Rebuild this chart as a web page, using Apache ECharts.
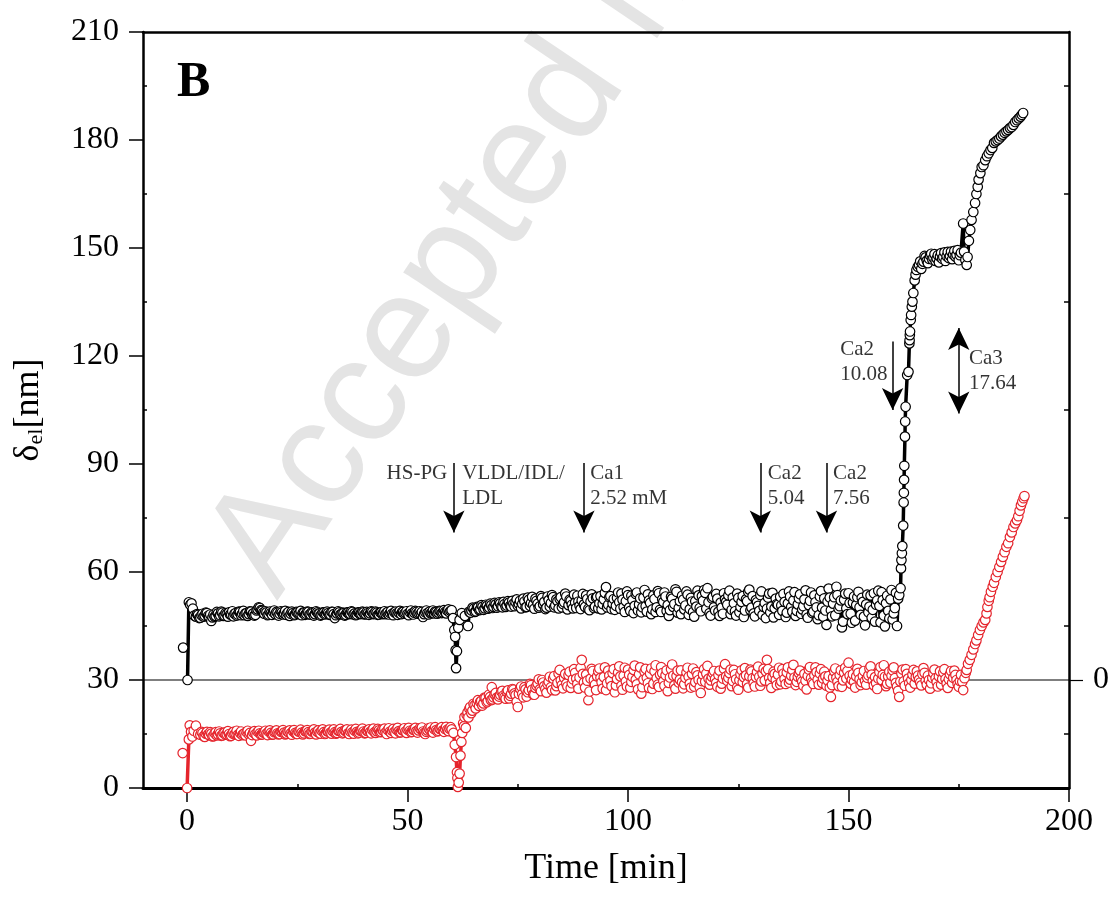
<!DOCTYPE html>
<html><head><meta charset="utf-8">
<script src="https://cdn.jsdelivr.net/npm/echarts@6/dist/echarts.min.js"></script>
<style>html,body{margin:0;padding:0;background:#fff}#c{width:1113px;height:898px}</style>
</head><body><div id="c"></div>
<script>
// ---- axis ticks ----
const xMajorTicks = [0, 50, 100, 150, 200];
const xMinorTicks = [25, 75, 125, 175];
const yMinorTicks = [15, 45, 75, 105, 135, 165, 195];
const rightZeroTick = [0];

// ---- black trace: [time (min), delta_el (nm)] ----
const blackData = [
 [-0.9,39.0],[-0.4,'-'],[0.1,30.0],[0.4,51.6],[0.7,50.9],[1.0,51.3],[1.3,49.8],[1.6,47.9],
 [2.0,47.6],[2.25,48.3],[2.5,48.1],[2.75,47.2],[3.0,47.3],[3.25,48.0],[3.5,48.4],[3.75,47.6],
 [4.0,47.9],[4.25,48.7],[4.5,48.6],[4.75,47.8],[5.0,47.5],[5.25,48.2],[5.5,46.4],[5.75,47.4],
 [6.0,48.2],[6.25,47.6],[6.5,47.8],[6.75,48.9],[7.0,48.5],[7.25,47.7],[7.5,48.0],[7.75,49.0],
 [8.0,48.7],[8.25,47.8],[8.5,47.9],[8.75,48.6],[9.0,48.3],[9.25,47.6],[9.5,48.8],[9.75,48.2],
 [10.0,48.1],[10.25,49.1],[10.5,47.7],[10.75,48.4],[11.0,48.6],[11.25,47.9],[11.5,48.2],[11.75,49.0],
 [12.0,48.9],[12.25,48.0],[12.5,48.4],[12.75,49.2],[13.0,48.0],[13.25,48.5],[13.5,48.6],[13.75,47.8],
 [14.0,48.3],[14.25,49.1],[14.5,49.0],[14.75,48.2],[15.0,48.5],[15.25,47.9],[15.5,48.1],[15.75,49.3],
 [16.0,49.6],[16.25,50.2],[16.5,50.0],[16.75,49.4],[17.0,49.2],[17.25,48.7],[17.5,48.4],[17.75,49.1],
 [18.0,48.8],[18.25,48.0],[18.5,48.2],[18.75,49.0],[19.0,48.6],[19.25,48.1],[19.5,48.9],[19.75,49.3],
 [20.0,48.3],[20.25,48.9],[20.5,48.7],[20.75,47.9],[21.0,48.4],[21.25,49.1],[21.5,48.8],[21.75,48.2],
 [22.0,48.5],[22.25,49.2],[22.5,48.1],[22.75,48.6],[23.0,48.9],[23.25,47.8],[23.5,48.4],[23.75,49.0],
 [24.0,48.6],[24.25,48.0],[24.5,48.2],[24.75,48.9],[25.0,48.8],[25.25,48.3],[25.5,48.5],[25.75,49.2],
 [26.0,48.0],[26.25,48.7],[26.5,48.7],[26.75,48.1],[27.0,48.4],[27.25,49.0],[27.5,48.9],[27.75,48.2],
 [28.0,48.2],[28.25,48.8],[28.5,48.6],[28.75,47.9],[29.0,48.3],[29.25,49.1],[29.5,48.8],[29.75,48.4],
 [30.0,48.5],[30.25,47.9],[30.5,48.1],[30.75,48.8],[31.0,48.7],[31.25,48.2],[31.5,48.4],[31.75,49.0],
 [32.0,48.6],[32.25,48.1],[32.5,48.2],[32.75,48.9],[33.0,48.9],[33.25,48.3],[33.5,47.2],[33.75,48.0],
 [34.0,48.5],[34.25,49.1],[34.5,48.8],[34.75,48.2],[35.0,48.3],[35.25,48.7],[35.5,48.6],[35.75,47.9],
 [36.0,48.1],[36.25,48.8],[36.5,48.7],[36.75,48.3],[37.0,48.4],[37.25,49.1],[37.5,48.9],[37.75,48.2],
 [38.0,48.5],[38.25,48.0],[38.5,48.2],[38.75,48.8],[39.0,48.7],[39.25,48.3],[39.5,48.4],[39.75,49.0],
 [40.0,48.8],[40.25,48.2],[40.5,48.3],[40.75,48.9],[41.0,48.6],[41.25,48.1],[41.5,48.5],[41.75,49.1],
 [42.0,48.9],[42.25,48.3],[42.5,48.4],[42.75,49.0],[43.0,48.7],[43.25,48.1],[43.5,48.2],[43.75,48.8],
 [44.0,48.8],[44.25,48.3],[44.5,48.5],[44.75,49.1],[45.0,48.3],[45.25,48.7],[45.5,48.9],[45.75,48.2],
 [46.0,48.6],[46.25,49.2],[46.5,48.4],[46.75,48.0],[47.0,48.8],[47.25,49.0],[47.5,48.5],[47.75,48.1],
 [48.0,48.7],[48.25,49.2],[48.5,48.3],[48.75,48.9],[49.0,48.9],[49.25,48.4],[49.5,48.6],[49.75,49.1],
 [50.0,48.4],[50.25,48.0],[50.5,48.8],[50.75,49.3],[51.0,48.5],[51.25,48.2],[51.5,48.7],[51.75,49.2],
 [52.0,48.9],[52.25,48.4],[52.5,48.6],[52.75,49.1],[53.0,48.4],[53.25,48.9],[53.5,47.5],[53.75,48.3],
 [54.0,48.8],[54.25,49.3],[54.5,48.6],[54.75,48.2],[55.0,49.0],[55.25,48.5],[55.5,48.7],[55.75,49.3],
 [56.0,48.5],[56.25,49.0],[56.5,48.9],[56.75,48.4],[57.0,48.7],[57.25,49.2],[57.5,49.1],[57.75,48.6],
 [58.0,48.8],[58.25,49.4],[58.5,48.9],[58.75,48.5],[59.0,49.3],[59.25,49.6],[59.5,48.8],[59.75,49.2],
 [60.0,49.4],
 [60.3,47.2],[60.6,43.9],[60.8,42.0],[60.9,38.3],[61.0,33.3],[61.2,38.0],[61.5,44.5],[61.8,46.7],[62.3,48.6],[63.0,47.8],[63.7,45.0],[64.0,49.0],
 [64.25,48.7],[64.5,49.3],[64.75,50.1],[65.0,49.8],[65.25,48.9],[65.5,49.1],[65.75,50.3],[66.0,50.2],
 [66.25,49.4],[66.5,49.6],[66.75,50.8],[67.0,50.4],[67.25,49.5],[67.5,49.9],[67.75,50.9],[68.0,50.6],
 [68.25,49.8],[68.5,50.1],[68.75,51.2],[69.0,50.8],[69.25,50.0],[69.5,50.3],[69.75,51.4],[70.0,51.0],
 [70.25,50.1],[70.5,50.5],[70.75,51.6],[71.0,51.3],[71.25,50.4],[71.5,50.2],[71.75,51.7],[72.0,51.1],
 [72.25,50.3],[72.5,50.7],[72.75,51.9],[73.0,51.5],[73.25,50.6],[73.5,50.4],[73.75,52.0],[74.0,51.2],
 [74.25,50.5],[74.5,51.6],[74.75,52.4],[75.0,50.6],[75.25,51.1],[75.5,52.0],[75.75,49.9],[76.0,51.1],
 [76.25,52.6],[76.5,51.8],[76.75,50.2],[77.0,50.3],[77.25,52.9],[77.5,52.3],[77.75,50.6],[78.0,51.4],
 [78.25,53.1],[78.5,50.9],[78.75,49.8],[79.0,52.6],[79.25,52.0],[79.5,51.2],[79.75,50.1],[80.0,50.5],
 [80.25,53.3],[80.5,52.8],[80.75,51.0],[81.0,51.7],[81.25,49.7],[81.5,50.1],[81.75,53.2],[82.0,52.2],
 [82.25,50.4],[82.5,51.4],[82.75,53.6],[83.0,53.0],[83.25,50.2],[83.5,50.7],[83.75,52.4],[84.0,51.9],
 [84.25,49.9],[84.5,52.5],[84.75,53.0],[85.0,50.2],[85.25,51.1],[85.5,51.6],[85.75,54.0],[86.0,53.2],
 [86.25,49.6],[86.5,50.8],[86.75,52.3],[87.0,52.0],[87.25,50.9],[87.5,49.9],[87.75,53.7],[88.0,51.5],
 [88.25,50.0],[88.5,53.4],[88.75,51.8],[89.0,50.6],[89.25,49.7],[89.5,52.1],[89.75,53.9],[90.0,51.0],
 [90.25,50.3],[90.5,53.5],[90.75,52.5],[91.0,49.8],[91.25,49.4],[91.5,51.8],[91.75,53.8],[92.0,52.7],
 [92.25,50.0],[92.5,50.4],[92.75,52.9],[93.0,53.1],[93.25,49.9],[93.5,51.3],[93.75,53.3],[94.0,49.6],
 [94.25,51.1],[94.5,52.4],[94.75,54.2],[95.0,55.8],[95.25,50.2],[95.5,50.9],[95.75,53.0],[96.0,53.3],
 [96.25,49.7],[96.5,51.2],[96.75,52.5],[97.0,49.5],[97.25,50.6],[97.5,52.8],[97.75,54.3],[98.0,51.6],
 [98.25,49.8],[98.5,54.0],[98.75,52.3],[99.0,50.3],[99.25,48.9],[99.5,51.9],[99.75,54.6],[100.0,53.6],
 [100.25,50.1],[100.5,49.2],[100.75,53.4],[101.0,52.2],[101.25,48.6],[101.5,50.6],[101.75,53.9],[102.0,54.3],
 [102.25,49.3],[102.5,51.0],[102.75,52.7],[103.0,48.8],[103.25,50.2],[103.5,52.9],[103.75,55.0],[104.0,50.5],
 [104.25,49.0],[104.5,53.8],[104.75,52.1],[105.0,51.4],[105.25,48.3],[105.5,49.6],[105.75,53.5],[106.0,52.5],
 [106.25,48.9],[106.5,50.2],[106.75,54.7],[107.0,54.1],[107.25,49.5],[107.5,48.9],[107.75,52.4],[108.0,51.7],
 [108.25,54.3],[108.5,53.2],[108.75,49.2],[109.0,50.8],[109.25,47.8],[109.5,49.4],[109.75,53.1],[110.0,52.6],
 [110.25,50.3],[110.5,51.1],[110.75,55.2],[111.0,54.5],[111.25,48.7],[111.5,50.0],[111.75,51.9],[112.0,48.3],
 [112.25,53.4],[112.5,52.3],[112.75,49.6],[113.0,50.7],[113.25,54.6],[113.5,53.7],[113.75,48.1],[114.0,49.7],
 [114.25,52.8],[114.5,51.8],[114.75,48.9],[115.0,47.6],[115.25,51.9],[115.5,50.4],[115.75,54.8],[116.0,53.5],
 [116.25,50.0],[116.5,49.1],[116.75,53.3],[117.0,52.0],[117.25,55.0],[117.5,54.2],[117.75,49.8],[118.0,55.5],
 [118.25,51.6],[118.5,48.6],[118.75,47.9],[119.0,52.7],[119.25,53.1],[119.5,50.2],[119.75,49.3],[120.0,53.9],
 [120.25,52.6],[120.5,49.0],[120.75,47.8],[121.0,51.5],[121.25,50.1],[121.5,48.4],[121.75,54.1],[122.0,52.4],
 [122.25,51.7],[122.5,50.9],[122.75,53.5],[123.0,54.8],[123.25,48.3],[123.5,49.5],[123.75,52.9],[124.0,51.3],
 [124.25,49.1],[124.5,47.9],[124.75,54.0],[125.0,52.8],[125.25,48.8],[125.5,50.3],[125.75,51.7],[126.0,53.3],
 [126.25,47.5],[126.5,49.3],[126.75,52.4],[127.0,51.9],[127.25,54.5],[127.5,55.1],[127.75,49.4],[128.0,50.1],
 [128.25,53.3],[128.5,48.5],[128.75,47.7],[129.0,52.2],[129.25,51.6],[129.5,50.6],[129.75,49.2],[130.0,53.6],
 [130.25,54.6],[130.5,48.1],[130.75,50.3],[131.0,51.4],[131.25,47.2],[131.5,49.8],[131.75,52.9],[132.0,54.0],
 [132.25,48.8],[132.5,50.4],[132.75,54.2],[133.0,47.4],[133.25,49.9],[133.5,52.6],[133.75,51.1],[134.0,50.9],
 [134.25,48.1],[134.5,53.1],[134.75,50.7],[135.0,49.2],[135.25,53.9],[135.5,51.7],[135.75,47.5],[136.0,48.7],
 [136.25,51.3],[136.5,54.6],[136.75,53.2],[137.0,50.3],[137.25,49.0],[137.5,52.1],[137.75,54.4],[138.0,47.8],
 [138.25,49.2],[138.5,51.0],[138.75,52.7],[139.0,53.8],[139.25,48.4],[139.5,49.6],[139.75,50.5],[140.0,52.4],
 [140.25,54.9],[140.5,48.2],[140.75,47.3],[141.0,50.8],[141.25,52.0],[141.5,54.3],[141.75,48.6],[142.0,49.0],
 [142.25,53.5],[142.5,51.6],[142.75,50.2],[143.0,46.9],[143.25,48.0],[143.5,53.2],[143.75,54.7],[144.0,50.1],
 [144.25,47.6],[144.5,52.7],[144.75,49.3],[145.0,45.3],[145.25,51.8],[145.5,55.4],[145.75,52.9],[146.0,49.4],
 [146.25,47.7],[146.5,51.2],[146.75,53.0],[147.0,48.0],[147.25,55.9],[147.5,53.6],[147.75,49.8],[148.0,50.5],
 [148.25,52.1],[148.5,44.6],[148.75,46.2],[149.0,52.3],[149.25,54.0],[149.5,49.9],[149.75,48.3],[150.0,54.1],
 [150.25,51.4],[150.5,48.4],[150.75,45.9],[151.0,51.5],[151.25,53.2],[151.5,46.5],[151.75,50.8],[152.0,53.0],
 [152.25,54.5],[152.5,50.2],[152.75,48.1],[153.0,52.8],[153.25,51.7],[153.5,47.6],[153.75,45.2],[154.0,51.0],
 [154.25,53.7],[154.5,48.8],[154.75,50.4],[155.0,53.5],[155.25,47.3],[155.5,49.5],[155.75,54.1],[156.0,46.2],
 [156.25,50.9],[156.5,52.1],[156.75,54.8],[157.0,50.6],[157.25,46.0],[157.5,54.4],[157.75,52.2],[158.0,47.9],
 [158.25,44.9],[158.5,51.3],[158.75,53.4],[159.0,49.2],[159.25,47.1],[159.5,52.4],[159.75,55.0],[160.0,46.8],
 [160.25,48.5],[160.5,50.0],[160.75,54.2],[161.0,45.0],[161.25,52.6],[161.5,53.6],
 [161.8,55.5],[161.9,61.0],[162.0,63.3],[162.1,65.2],[162.2,67.2],[162.4,72.9],[162.5,79.3],[162.55,82.0],[162.6,85.6],[162.65,89.5],
 [162.8,97.6],[162.85,101.8],[162.95,105.9],[163.3,114.7],[163.6,115.6],[163.8,123.5],[163.85,124.4],[163.9,125.8],[163.95,126.8],
 [164.1,130.0],[164.2,131.4],[164.35,133.7],[164.5,135.1],[164.7,137.5],[165.0,141.0],[165.2,142.6],[165.4,143.9],[165.7,144.8],
 [166.0,145.3],[166.25,146.3],[166.5,144.2],[166.75,145.6],[167.0,146.2],[167.25,147.8],[167.5,147.4],[167.75,146.5],
 [168.0,145.8],[168.25,147.0],[168.5,147.9],[168.75,148.4],[169.0,146.8],[169.25,147.3],[169.5,148.3],[169.75,146.4],
 [170.0,147.1],[170.25,148.0],[170.5,146.0],[170.75,147.6],[171.0,148.6],[171.25,147.0],[171.5,147.5],[171.75,148.8],
 [172.0,146.4],[172.25,147.7],[172.5,148.9],[172.75,147.2],[173.0,147.8],[173.25,149.0],[173.5,146.9],[173.75,148.2],
 [174.0,149.2],[174.25,147.6],[174.5,148.1],[174.75,149.4],[175.0,146.6],[175.25,148.0],[175.5,148.7],
 [176.0,156.8],[176.2,149.0],[176.5,146.7],[176.8,145.3],[177.0,147.5],[177.3,152.0],[177.6,155.0],[177.9,157.8],[178.3,160.0],[178.7,162.5],
 [179.0,165.0],[179.3,167.0],[179.5,169.0],[179.9,170.8],[180.2,172.5],[180.6,173.0],[181.0,174.4],[181.4,175.5],[181.8,176.3],[182.2,177.2],
 [182.6,177.8],[183.0,179.2],[183.4,179.6],[183.8,180.0],[184.2,180.4],[184.6,181.0],[185.0,181.5],[185.4,182.0],[185.8,182.4],[186.2,182.8],
 [186.6,183.3],[187.0,183.6],[187.4,184.2],[187.8,185.0],[188.2,185.5],[188.6,186.0],[189.0,186.5],[189.3,187.0],[189.6,187.5]
];

// ---- red trace: [time (min), delta_el (nm)] ----
const redData = [
 [-1.0,9.7],[-0.5,'-'],[0.0,0.0],[0.4,13.5],[0.6,17.4],[0.9,15.6],[1.2,14.3],[1.5,15.9],[2.0,17.3],[2.5,15.0],
 [3.0,14.8],[3.25,15.6],[3.5,15.3],[3.75,14.4],[4.0,14.2],[4.25,15.1],[4.5,15.6],[4.75,14.9],
 [5.0,14.7],[5.25,15.5],[5.5,15.1],[5.75,14.3],[6.0,14.4],[6.25,15.2],[6.5,15.5],[6.75,14.6],
 [7.0,14.9],[7.25,15.7],[7.5,15.2],[7.75,14.5],[8.0,14.6],[8.25,15.3],[8.5,15.4],[8.75,14.8],
 [9.0,14.9],[9.25,15.8],[9.5,15.0],[9.75,14.4],[10.0,14.5],[10.25,15.2],[10.5,15.6],[10.75,14.9],
 [11.0,15.1],[11.25,15.9],[11.5,14.8],[11.75,14.5],[12.0,15.3],[12.25,15.7],[12.5,14.7],[12.75,15.0],
 [13.0,15.2],[13.25,14.6],[13.5,15.5],[13.75,15.9],[14.0,14.9],[14.25,15.3],[14.5,13.1],[14.75,14.7],
 [15.0,15.4],[15.25,15.8],[15.5,15.0],[15.75,14.6],[16.0,15.6],[16.25,15.9],[16.5,15.2],[16.75,14.8],
 [17.0,14.9],[17.25,15.4],[17.5,15.5],[17.75,15.9],[18.0,15.1],[18.25,14.7],[18.5,15.7],[18.75,16.0],
 [19.0,15.3],[19.25,14.8],[19.5,14.9],[19.75,15.5],[20.0,15.6],[20.25,16.0],[20.5,15.2],[20.75,14.9],
 [21.0,15.0],[21.25,15.6],[21.5,15.7],[21.75,16.1],[22.0,15.4],[22.25,14.9],[22.5,15.1],[22.75,15.7],
 [23.0,15.5],[23.25,16.0],[23.5,15.2],[23.75,14.8],[24.0,15.8],[24.25,16.1],[24.5,15.3],[24.75,15.0],
 [25.0,15.0],[25.25,15.7],[25.5,15.6],[25.75,16.2],[26.0,15.4],[26.25,14.9],[26.5,15.2],[26.75,15.8],
 [27.0,15.8],[27.25,16.1],[27.5,15.5],[27.75,15.0],[28.0,15.1],[28.25,15.7],[28.5,15.7],[28.75,16.3],
 [29.0,15.4],[29.25,14.9],[29.5,15.6],[29.75,16.0],[30.0,15.3],[30.25,15.1],[30.5,15.9],[30.75,16.3],
 [31.0,15.5],[31.25,15.0],[31.5,15.2],[31.75,15.8],[32.0,15.7],[32.25,16.2],[32.5,15.4],[32.75,15.1],
 [33.0,15.8],[33.25,16.3],[33.5,15.5],[33.75,15.1],[34.0,15.3],[34.25,15.9],[34.5,15.9],[34.75,16.4],
 [35.0,15.6],[35.25,15.2],[35.5,15.4],[35.75,16.0],[36.0,15.8],[36.25,16.3],[36.5,15.2],[36.75,15.0],
 [37.0,15.7],[37.25,16.2],[37.5,15.5],[37.75,15.1],[38.0,15.9],[38.25,16.4],[38.5,15.6],[38.75,15.2],
 [39.0,15.4],[39.25,15.9],[39.5,16.0],[39.75,16.5],[40.0,15.7],[40.25,15.2],[40.5,15.3],[40.75,15.9],
 [41.0,15.8],[41.25,16.3],[41.5,15.6],[41.75,15.2],[42.0,16.1],[42.25,16.5],[42.5,15.5],[42.75,15.3],
 [43.0,15.8],[43.25,16.4],[43.5,16.0],[43.75,15.5],[44.0,15.6],[44.25,16.2],[44.5,15.9],[44.75,16.5],
 [45.0,15.4],[45.25,15.0],[45.5,16.1],[45.75,16.6],[46.0,15.7],[46.25,15.3],[46.5,15.9],[46.75,16.4],
 [47.0,15.6],[47.25,15.2],[47.5,16.2],[47.75,16.7],[48.0,15.8],[48.25,15.4],[48.5,15.5],[48.75,16.1],
 [49.0,16.0],[49.25,16.6],[49.5,15.7],[49.75,15.3],[50.0,16.2],[50.25,16.7],[50.5,15.9],[50.75,15.5],
 [51.0,15.6],[51.25,16.2],[51.5,16.1],[51.75,16.7],[52.0,15.8],[52.25,15.4],[52.5,16.0],[52.75,16.6],
 [53.0,16.3],[53.25,16.8],[53.5,15.7],[53.75,15.3],[54.0,15.0],[54.25,15.6],[54.5,16.0],[54.75,16.6],
 [55.0,16.2],[55.25,16.8],[55.5,15.8],[55.75,15.4],[56.0,16.4],[56.25,16.9],[56.5,16.1],[56.75,15.7],
 [57.0,15.9],[57.25,16.5],[57.5,16.3],[57.75,16.9],[58.0,16.0],[58.25,15.6],[58.5,16.4],[58.75,17.0],
 [59.0,16.2],[59.25,15.8],[59.5,16.5],[59.75,16.9],[60.0,16.3],
 [60.4,15.3],[60.7,12.0],[61.0,8.6],[61.2,4.4],[61.3,2.8],[61.4,0.3],[61.6,1.5],[61.8,4.0],[62.0,9.0],[62.2,12.8],
 [62.4,15.3],[62.6,18.0],[62.8,17.2],[62.9,19.7],[63.2,16.7],[63.4,20.3],[63.6,21.0],[63.8,19.6],[64.0,22.0],[64.2,22.5],
 [64.45,20.8],[64.7,21.5],[64.95,23.4],[65.2,23.0],[65.45,22.1],[65.7,23.6],[65.95,24.4],[66.2,22.8],[66.45,23.9],[66.7,24.2],
 [66.95,22.9],[67.2,23.5],[67.45,25.1],[67.7,25.0],[67.95,23.8],[68.2,24.1],[68.45,25.9],[68.7,25.3],[68.9,24.4],[69.1,28.0],
 [69.25,24.6],[69.5,25.2],[69.75,26.0],[70.0,26.4],[70.25,25.1],[70.5,24.6],[70.75,25.4],[71.0,25.9],
 [71.25,26.8],[71.5,27.0],[71.75,25.7],[72.0,25.3],[72.25,24.8],[72.5,26.7],[72.75,27.1],[73.0,24.9],
 [73.25,25.6],[73.5,26.2],[73.75,27.5],[74.0,27.3],[74.25,26.3],[74.5,25.8],[74.75,24.0],[75.0,22.5],
 [75.25,26.1],[75.5,27.6],[75.75,28.2],[76.0,26.1],[76.25,25.2],[76.5,28.0],[76.75,27.4],[77.0,25.4],
 [77.25,26.6],[77.5,27.2],[77.75,28.9],[78.0,28.6],[78.25,27.3],[78.5,26.0],[78.75,25.9],[79.0,27.8],
 [79.25,28.4],[79.5,29.0],[79.75,30.2],[80.0,27.4],[80.25,26.9],[80.5,30.0],[80.75,29.3],[81.0,28.3],
 [81.25,27.5],[81.5,26.5],[81.75,28.8],[82.0,29.5],[82.25,30.9],[82.5,28.0],[82.75,27.2],[83.0,30.4],
 [83.25,31.1],[83.5,27.1],[83.75,28.3],[84.0,29.2],[84.25,31.8],[84.5,32.8],[84.75,29.9],[85.0,28.6],
 [85.25,27.7],[85.5,30.6],[85.75,31.7],[86.0,29.0],[86.25,28.2],[86.5,31.4],[86.75,32.3],[87.0,27.8],
 [87.25,29.1],[87.5,30.2],[87.75,33.0],[88.0,32.0],[88.25,30.4],[88.5,28.9],[88.75,27.6],[89.0,30.7],
 [89.25,33.4],[89.5,35.6],[89.75,31.7],[90.0,29.3],[90.25,27.9],[90.5,31.5],[90.75,29.8],[91.0,24.4],
 [91.25,26.8],[91.5,30.4],[91.75,33.1],[92.0,32.5],[92.25,30.0],[92.5,28.7],[92.75,27.2],[93.0,31.0],
 [93.25,32.4],[93.5,33.2],[93.75,30.6],[94.0,29.4],[94.25,27.6],[94.5,30.8],[94.75,33.5],[95.0,27.2],
 [95.25,29.1],[95.5,32.6],[95.75,31.2],[96.0,29.8],[96.25,28.3],[96.5,31.9],[96.75,33.0],[97.0,26.6],
 [97.25,28.5],[97.5,30.3],[97.75,32.1],[98.0,33.8],[98.25,31.0],[98.5,28.4],[98.75,27.3],[99.0,31.2],
 [99.25,33.4],[99.5,29.6],[99.75,28.2],[100.0,32.9],[100.25,31.4],[100.5,27.9],[100.75,29.5],[101.0,30.9],
 [101.25,32.8],[101.5,34.0],[101.75,30.1],[102.0,28.8],[102.25,27.4],[102.5,31.6],[102.75,33.5],[103.0,26.2],
 [103.25,28.0],[103.5,30.1],[103.75,32.3],[104.0,33.1],[104.25,30.6],[104.5,29.1],[104.75,27.8],[105.0,31.8],
 [105.25,33.2],[105.5,27.5],[105.75,29.0],[106.0,32.4],[106.25,34.1],[106.5,30.5],[106.75,28.7],[107.0,28.1],
 [107.25,31.5],[107.5,33.6],[107.75,31.9],[108.0,29.7],[108.25,28.4],[108.5,31.3],[108.75,32.7],[109.0,26.9],
 [109.25,29.2],[109.5,30.7],[109.75,33.0],[110.0,34.3],[110.25,31.2],[110.5,28.5],[110.75,27.6],[111.0,31.1],
 [111.25,32.6],[111.5,29.3],[111.75,30.1],[112.0,32.7],[112.25,29.4],[112.5,27.7],[112.75,28.8],[113.0,30.6],
 [113.25,32.1],[113.5,33.4],[113.75,30.9],[114.0,29.0],[114.25,27.9],[114.5,31.7],[114.75,33.2],[115.0,28.2],
 [115.25,29.4],[115.5,32.2],[115.75,31.3],[116.0,30.0],[116.25,28.0],[116.5,26.4],[116.75,29.7],[117.0,31.5],
 [117.25,33.0],[117.5,29.5],[117.75,31.8],[118.0,33.9],[118.25,30.4],[118.5,28.7],[118.75,29.9],[119.0,30.9],
 [119.25,31.9],[119.5,32.5],[119.75,30.3],[120.0,29.2],[120.25,28.1],[120.5,31.4],[120.75,32.6],[121.0,27.6],
 [121.25,29.0],[121.5,30.4],[121.75,33.1],[122.0,34.4],[122.25,31.0],[122.5,29.8],[122.75,30.6],[123.0,31.9],
 [123.25,32.9],[123.5,28.3],[123.75,29.7],[124.0,32.8],[124.25,31.6],[124.5,30.2],[124.75,28.0],[125.0,27.3],
 [125.25,29.9],[125.5,31.6],[125.75,32.7],[126.0,29.4],[126.25,30.8],[126.5,33.3],[126.75,31.3],[127.0,28.9],
 [127.25,27.9],[127.5,31.0],[127.75,32.9],[128.0,32.4],[128.25,30.5],[128.5,29.1],[128.75,28.2],[129.0,30.8],
 [129.25,32.2],[129.5,33.7],[129.75,30.9],[130.0,28.4],[130.25,29.6],[130.5,31.8],[130.75,33.1],[131.0,29.9],
 [131.25,32.4],[131.5,35.6],[131.75,33.0],[132.0,30.6],[132.25,29.2],[132.5,27.8],[132.75,30.8],[133.0,32.3],
 [133.25,31.7],[133.5,30.0],[133.75,28.6],[134.0,31.5],[134.25,33.4],[134.5,28.8],[134.75,29.6],[135.0,33.0],
 [135.25,31.8],[135.5,30.3],[135.75,28.9],[136.0,32.1],[136.25,33.5],[136.5,29.3],[136.75,30.1],[137.0,31.2],
 [137.25,32.8],[137.5,34.2],[137.75,30.7],[138.0,28.6],[138.25,29.5],[138.5,30.9],[138.75,31.9],[139.0,32.6],
 [139.25,30.3],[139.5,29.6],[139.75,28.4],[140.0,31.7],[140.25,29.8],[140.5,27.4],[140.75,31.1],[141.0,32.9],
 [141.25,33.6],[141.5,30.5],[141.75,29.4],[142.0,28.9],[142.25,31.3],[142.5,33.5],[142.75,32.2],[143.0,30.1],
 [143.25,28.7],[143.5,31.8],[143.75,33.0],[144.0,29.2],[144.25,30.4],[144.5,32.3],[144.75,31.0],[145.0,28.4],
 [145.25,29.9],[145.5,31.1],[145.75,27.9],[146.0,25.3],[146.25,28.6],[146.5,30.7],[146.75,32.4],[147.0,33.2],
 [147.25,30.6],[147.5,29.5],[147.75,28.3],[148.0,31.4],[148.25,32.7],[148.5,28.1],[148.75,29.9],[149.0,32.0],
 [149.25,33.4],[149.5,30.4],[149.75,32.5],[150.0,34.8],[150.25,31.2],[150.5,29.0],[150.75,30.1],[151.0,31.6],
 [151.25,29.5],[151.5,27.9],[151.75,31.0],[152.0,33.1],[152.25,32.0],[152.5,30.2],[152.75,28.6],[153.0,29.4],
 [153.25,31.1],[153.5,32.5],[153.75,29.8],[154.0,28.7],[154.25,30.6],[154.5,31.3],[154.75,33.2],[155.0,33.8],
 [155.25,31.5],[155.5,29.7],[155.75,28.5],[156.0,30.8],[156.25,29.1],[156.5,27.5],[156.75,30.4],[157.0,32.2],
 [157.25,33.6],[157.5,30.0],[157.75,31.4],[158.0,34.1],[158.25,30.9],[158.5,28.3],[158.75,29.0],[159.0,31.0],
 [159.25,32.3],[159.5,29.3],[159.75,31.2],[160.0,32.7],[160.25,33.5],[160.5,30.5],[160.75,29.2],[161.0,28.2],
 [161.25,27.0],[161.5,25.3],[161.75,29.6],[162.0,31.8],[162.25,32.9],[162.5,29.6],[162.75,28.4],[163.0,33.0],
 [163.25,31.7],[163.5,30.4],[163.75,29.1],[164.0,27.9],[164.25,30.0],[164.5,31.5],[164.75,32.8],[165.0,29.0],
 [165.25,30.8],[165.5,32.4],[165.75,31.2],[166.0,30.1],[166.25,29.3],[166.5,28.5],[166.75,31.6],[167.0,33.3],
 [167.25,32.0],[167.5,29.8],[167.75,28.7],[168.0,31.2],[168.25,30.0],[168.5,27.6],[168.75,29.1],[169.0,30.6],
 [169.25,31.9],[169.5,32.9],[169.75,30.5],[170.0,29.4],[170.25,28.2],[170.5,31.0],[170.75,32.4],[171.0,28.7],
 [171.25,30.3],[171.5,32.1],[171.75,33.0],[172.0,30.3],[172.25,29.0],[172.5,27.8],[172.75,30.2],[173.0,31.6],
 [173.25,32.5],[173.5,29.2],[173.75,30.6],[174.0,32.6],[174.25,31.4],[174.5,30.0],[174.75,28.9],[175.0,28.1],
 [175.25,29.7],[175.5,31.4],
 [175.8,29.5],[176.0,27.2],[176.3,30.5],[176.6,32.0],[176.8,32.8],[177.1,34.5],[177.5,35.6],[177.9,37.0],[178.3,38.5],[178.7,40.0],
 [179.0,41.0],[179.4,42.5],[179.8,43.9],[180.2,45.0],[180.6,46.0],[181.0,46.7],[181.3,48.5],[181.5,50.3],[181.8,52.0],[182.0,53.0],
 [182.3,54.5],[182.7,55.9],[183.0,57.0],[183.4,58.6],[183.8,60.0],[184.2,61.4],[184.6,62.8],[185.0,64.2],[185.4,65.5],[185.8,67.0],
 [186.2,68.0],[186.6,69.7],[187.0,71.0],[187.4,72.5],[187.8,73.5],[188.2,74.4],[188.5,75.5],[188.8,77.0],[189.1,78.5],[189.4,79.5],
 [189.7,80.5],[189.9,81.1]
];

// ---- reference line for the right-hand zero ----
const zeroLevel = 30;
const zeroLineTime = [-10, 200];

// ---- annotation arrows (time, from, to) ----
const arrowTime = [60.5, 90, 130, 145, 160, 175];
const arrowFrom = [90.3, 90.3, 90.3, 90.3, 124.0, 127.8];
const arrowTo = [71.0, 71.0, 71.0, 71.0, 105.0, 104.0];
const arrowBothEnds = [false, false, false, false, false, true];

// ---- annotation texts ----
const noteText = ['HS-PG', 'VLDL/IDL/\nLDL', 'Ca1\n2.52 mM', 'Ca2\n5.04', 'Ca2\n7.56', 'Ca2\n10.08', 'Ca3\n17.64'];
const noteTime = [59.0, 62.4, 91.4, 131.7, 146.5, 148.1, 177.3];
const noteLevel = [87.5, 84.0, 84.0, 84.0, 84.0, 118.3, 115.7];
const noteSide = ['left', 'right', 'right', 'right', 'right', 'right', 'right'];

const FONT = 'Liberation Serif';
const RED = '#e5242c';

const chart = echarts.init(document.getElementById('c'), null, {renderer: 'canvas'});

const arrowLines = arrowTime.map((t, i) => [
  {coord: [t, arrowFrom[i]], symbol: arrowBothEnds[i] ? 'arrow' : 'none'},
  {coord: [t, arrowTo[i]], symbol: 'arrow'}
]);
const notes = noteText.map((txt, i) => ({
  value: [noteTime[i], noteLevel[i]],
  label: {show: true, formatter: txt, position: noteSide[i], distance: 0}
}));

const plainAxis = {type: 'value', min: -10, max: 200, splitLine: {show: false}};

chart.setOption({
  animation: false,
  backgroundColor: '#fff',
  title: {
    text: 'B', left: 177, top: 58, padding: 0,
    textStyle: {fontFamily: FONT, fontWeight: 'bold', fontSize: 50, color: '#000'}
  },
  graphic: [{
    type: 'text', x: 305, y: 620, rotation: 56 * Math.PI / 180, z: -10, silent: true,
    style: {text: 'Accepted Manuscript', fontFamily: 'Liberation Sans', fontSize: 150,
            fill: '#e4e4e4', align: 'left', verticalAlign: 'bottom',
            textAlign: 'left', textVerticalAlign: 'bottom'}
  }],
  grid: {left: 143, right: 44, top: 32, bottom: 110, containLabel: false},
  xAxis: [
    Object.assign({}, plainAxis, {
      position: 'bottom',
      axisLine: {onZero: false, lineStyle: {color: '#000', width: 3}},
      axisTick: {show: true, customValues: xMajorTicks, length: 14, lineStyle: {color: '#000', width: 1.5}},
      axisLabel: {customValues: xMajorTicks, fontFamily: FONT, fontSize: 32, color: '#000', margin: 18},
      name: 'Time [min]', nameLocation: 'middle', nameGap: 63,
      nameTextStyle: {fontFamily: FONT, fontSize: 36, color: '#000'}
    }),
    Object.assign({}, plainAxis, {
      position: 'bottom',
      axisLine: {show: false, onZero: false},
      axisTick: {show: true, inside: true, customValues: xMinorTicks, length: 4, lineStyle: {color: '#000', width: 1.5}},
      axisLabel: {show: false}
    }),
    Object.assign({}, plainAxis, {
      position: 'top',
      axisLine: {onZero: false, lineStyle: {color: '#000', width: 2.5}},
      axisTick: {show: false},
      axisLabel: {show: false}
    })
  ],
  yAxis: [
    {
      type: 'value', min: 0, max: 210, interval: 30, position: 'left',
      splitLine: {show: false},
      axisLine: {onZero: false, lineStyle: {color: '#000', width: 2.5}},
      axisTick: {show: true, length: 14, lineStyle: {color: '#000', width: 1.5}},
      axisLabel: {fontFamily: FONT, fontSize: 32, color: '#000', margin: 24},
      name: '{d|δ}{s|el}{n|[nm]}', nameLocation: 'middle', nameGap: 96, nameRotate: 90,
      nameTextStyle: {
        color: '#000',
        rich: {
          d: {fontFamily: FONT, fontSize: 36, lineHeight: 40, verticalAlign: 'bottom', color: '#000'},
          s: {fontFamily: FONT, fontSize: 22, lineHeight: 22, verticalAlign: 'bottom', color: '#000'},
          n: {fontFamily: FONT, fontSize: 36, lineHeight: 40, verticalAlign: 'bottom', color: '#000'}
        }
      }
    },
    {
      type: 'value', min: 0, max: 210, position: 'left',
      splitLine: {show: false},
      axisLine: {show: false, onZero: false},
      axisTick: {show: true, inside: true, customValues: yMinorTicks, length: 4, lineStyle: {color: '#000', width: 1.5}},
      axisLabel: {show: false}
    },
    {
      type: 'value', min: 0, max: 210, position: 'right',
      splitLine: {show: false},
      axisLine: {onZero: false, lineStyle: {color: '#000', width: 2.5}},
      axisTick: {show: true, inside: true, customValues: yMinorTicks, length: 5, lineStyle: {color: '#000', width: 1.5}},
      axisLabel: {show: false}
    },
    {
      // right-hand offset scale whose zero sits at delta_el = 30 nm
      type: 'value', min: -30, max: 180, position: 'right',
      splitLine: {show: false},
      axisLine: {show: false, onZero: false},
      axisTick: {show: true, customValues: rightZeroTick, length: 14, lineStyle: {color: '#000', width: 1.2}},
      axisLabel: {customValues: rightZeroTick, fontFamily: FONT, fontSize: 32, color: '#000', margin: 24}
    }
  ],
  series: [
    {
      name: 'zero', type: 'line', silent: true, z: 1,
      data: zeroLineTime.map(t => [t, zeroLevel]),
      symbol: 'none',
      lineStyle: {color: '#000', width: 1.2}
    },
    {
      name: 'black', type: 'line', z: 3, silent: true,
      data: blackData,
      symbol: 'circle', symbolSize: 9.5, showAllSymbol: true,
      itemStyle: {color: '#fff', borderColor: '#000', borderWidth: 1.2},
      lineStyle: {color: '#000', width: 3.5},
      emphasis: {disabled: true}
    },
    {
      name: 'red', type: 'line', z: 3, silent: true,
      data: redData,
      symbol: 'circle', symbolSize: 9.5, showAllSymbol: true,
      itemStyle: {color: '#fff', borderColor: RED, borderWidth: 1.2},
      lineStyle: {color: RED, width: 3.5},
      emphasis: {disabled: true}
    },
    {
      name: 'notes', type: 'scatter', z: 4, silent: true,
      symbolSize: 0,
      data: notes,
      label: {show: true, fontFamily: FONT, fontSize: 21, lineHeight: 25, color: '#000'},
      markLine: {
        silent: true, animation: false,
        symbol: ['none', 'arrow'], symbolSize: [16, 22],
        lineStyle: {color: '#000', width: 1.5, type: 'solid'},
        label: {show: false},
        emphasis: {disabled: true},
        data: arrowLines
      }
    }
  ]
});
</script>
</body></html>
